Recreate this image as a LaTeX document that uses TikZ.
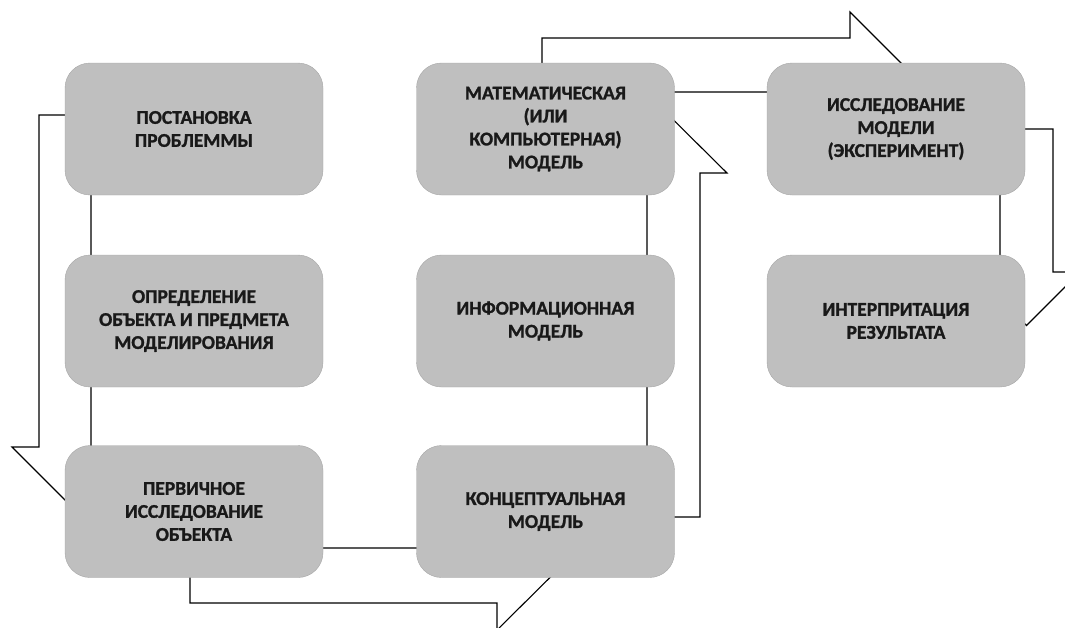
\documentclass[tikz,border=0pt]{standalone}
\usepackage{fontspec}
\setmainfont{Carlito}[BoldFeatures={FakeBold=1.2}]
\usetikzlibrary{backgrounds}
\definecolor{boxgray}{HTML}{BFBFBF}
\definecolor{boxedge}{HTML}{A6A6A6}

\begin{document}
\begin{tikzpicture}[x=1pt,y=-1pt,
	stage/.style={draw=boxedge,fill=boxgray,rounded corners=25pt,minimum width=258pt,minimum height=132pt,inner sep=0,align=center,text=black!90,font=\fontsize{19.5}{23}\selectfont\bfseries},
	bigarrow/.style={draw=black,fill=white,line width=1.1pt,line join=miter}]
	\useasboundingbox (0,0) rectangle (1065,627);
	\node[stage] (1) at (194,129) {ПОСТАНОВКА\\ПРОБЛЕММЫ};
	\node[stage] (2) at (545.5,129) {МАТЕМАТИЧЕСКАЯ\\(ИЛИ\\КОМПЬЮТЕРНАЯ)\\МОДЕЛЬ};
	\node[stage] (3) at (896,129) {ИССЛЕДОВАНИЕ\\МОДЕЛИ\\(ЭКСПЕРИМЕНТ)};
	\node[stage] (4) at (194,321) {ОПРЕДЕЛЕНИЕ\\ОБЪЕКТА И ПРЕДМЕТА\\МОДЕЛИРОВАНИЯ};
	\node[stage] (5) at (545.5,321) {ИНФОРМАЦИОННАЯ\\МОДЕЛЬ};
	\node[stage] (6) at (896,321) {ИНТЕРПРИТАЦИЯ\\РЕЗУЛЬТАТА};
	\node[stage] (7) at (194,511.5) {ПЕРВИЧНОЕ\\ИССЛЕДОВАНИЕ\\ОБЪЕКТА};
	\node[stage] (8) at (545.5,511.5) {КОНЦЕПТУАЛЬНАЯ\\МОДЕЛЬ};
	\begin{pgfonlayer}{background}
		\draw[bigarrow] (150,115) -- (39,115) -- (39,447) -- (12,447) -- (65,500) -- (118,447) -- (91,447) -- (91,167) -- (150,167) -- cycle;
		\draw[bigarrow] (190,520) -- (190,603) -- (497,603) -- (497,630) -- (552,575.5) -- (497,521) -- (497,548) -- (245,548) -- (245,520) -- cycle;
		\draw[bigarrow] (600,517) -- (700,517) -- (700,173) -- (727,173) -- (673.5,120) -- (620,173) -- (647,173) -- (647,464) -- (600,464) -- cycle;
		\draw[bigarrow] (542,130) -- (542,38) -- (850,38) -- (850,12) -- (903,65) -- (850,118) -- (850,92) -- (596,92) -- (596,130) -- cycle;
		\draw[bigarrow] (900,129) -- (1053,129) -- (1053,272) -- (1080,272) -- (1026.5,325.5) -- (973,272) -- (1000,272) -- (1000,182) -- (900,182) -- cycle;
	\end{pgfonlayer}
\end{tikzpicture}
\end{document}
